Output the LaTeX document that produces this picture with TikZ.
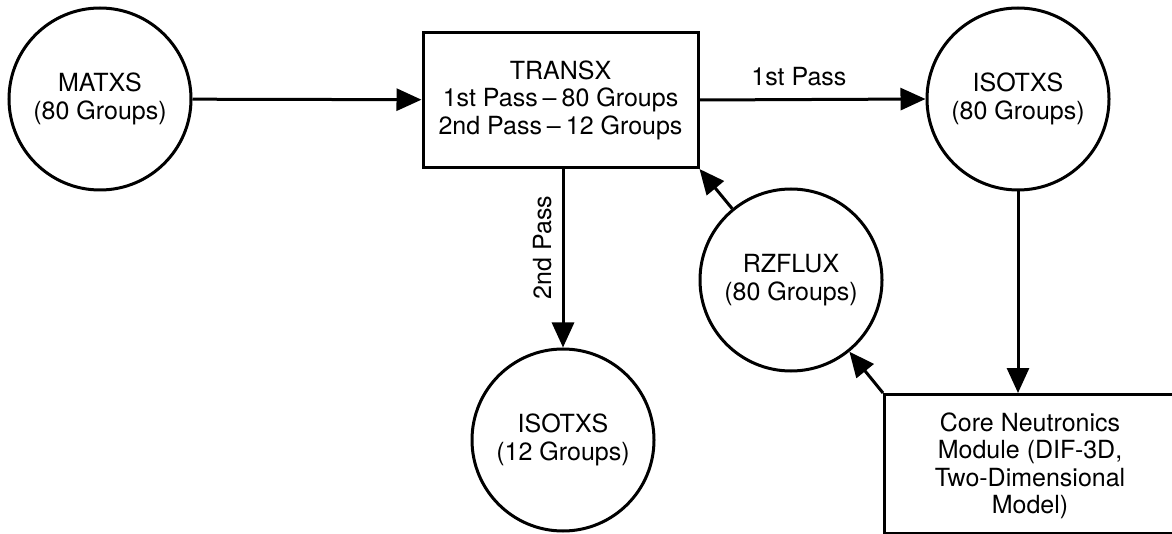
\documentclass[tikz,border=0pt]{standalone}
\usepackage{fontspec}
\setmainfont{TeX Gyre Heros}
\usetikzlibrary{arrows.meta}
\begin{document}
\begin{tikzpicture}[x=1pt,y=-1pt,
  every node/.style={font=\fontsize{25}{27.5}\selectfont, align=center},
  disk/.style={draw, circle, line width=3pt, minimum size=182pt, inner sep=0pt},
  panel/.style={draw, rectangle, line width=3pt, inner sep=0pt},
  arr/.style={line width=3pt, -{Triangle[length=25pt,width=22pt]}},
  lbl/.style={font=\fontsize{25}{28}\selectfont, inner sep=0pt}]
  \useasboundingbox (0,0) rectangle (1172,534);
  \clip (0,0) rectangle (1172,534);

  % data files and modules
  \node[disk] (mat) at (100,99) {MATXS\\(80 Groups)};
  \node[panel, minimum width=275pt, minimum height=135pt] (tx) at (560.5,100)
    {TRANSX\\1st Pass\hspace{0.2em}--\hspace{0.2em}80 Groups\\2nd Pass\hspace{0.2em}--\hspace{0.2em}12 Groups};
  \node[disk] (iso80) at (1018,99) {ISOTXS\\(80 Groups)};
  \node[disk] (rz) at (791,280) {RZFLUX\\(80 Groups)};
  \node[disk] (iso12) at (563,440) {ISOTXS\\(12 Groups)};
  \node[panel, anchor=north west, minimum width=297pt, minimum height=139pt] (cn) at (883,393) {};
  \node at (1030,466) {Core Neutronics\\Module (DIF-3D,\\Two-Dimensional\\Model)};

  % connectors
  \draw[arr] (mat) -- (tx);
  \draw[arr] (tx.east) -- node[lbl, above=12pt, pos=0.44] {1st Pass} (iso80.west);
  \draw[arr] (iso80) -- (iso80 |- cn.north);
  \draw[arr] (cn.north west) -- (rz);
  \draw[arr] (rz) -- (tx.south east);
  \draw[arr] (tx.south -| iso12) -- node[lbl, rotate=90, above=10pt, pos=0.44] {2nd Pass} (iso12.north);
\end{tikzpicture}
\end{document}
